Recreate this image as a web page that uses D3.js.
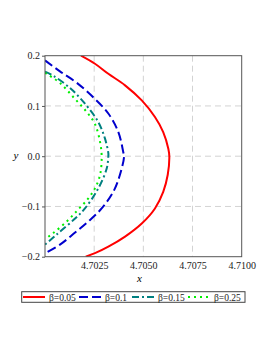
<!DOCTYPE html>
<html>
<head>
<meta charset="utf-8">
<script src="https://cdn.jsdelivr.net/npm/d3@7"></script>
<style>
  body { margin: 0; background: #fff; }
  text { font-family: "Liberation Serif", "DejaVu Serif", serif; }
</style>
</head>
<body>
<svg id="chart" width="274" height="355"></svg>
<script>
// values: [x, y]
const red = [[4.70183, 0.2], [4.70254, 0.184], [4.70322, 0.164], [4.70407, 0.141], [4.70492, 0.111],
  [4.70559, 0.078], [4.70601, 0.048], [4.70627, 0.015], [4.70632, 0], [4.70624, -0.037],
  [4.70601, -0.071], [4.70559, -0.104], [4.70492, -0.134], [4.70407, -0.160], [4.70322, -0.180],
  [4.70254, -0.193], [4.70207, -0.2]];
const blue = [[4.70000, 0.1906], [4.70076, 0.1688], [4.70165, 0.145], [4.70254, 0.114], [4.70322, 0.085],
  [4.70373, 0.048], [4.70398, 0.008], [4.70402, 0], [4.70381, -0.037], [4.70347, -0.071],
  [4.70288, -0.104], [4.70220, -0.130], [4.70153, -0.152], [4.70076, -0.176], [4.70000, -0.193]];
const teal = [[4.70000, 0.168], [4.70042, 0.160], [4.70127, 0.1357], [4.70200, 0.106], [4.70271, 0.068],
  [4.70305, 0.035], [4.70322, 0.006], [4.70322, 0], [4.70314, -0.024], [4.70271, -0.064],
  [4.70203, -0.104], [4.70153, -0.124], [4.70059, -0.156], [4.70000, -0.176]];
const green = [[4.70000, 0.166], [4.70076, 0.1457], [4.70150, 0.115], [4.70212, 0.088], [4.70254, 0.064],
  [4.70280, 0.028], [4.70288, 0], [4.70280, -0.037], [4.70254, -0.064], [4.70220, -0.084],
  [4.70169, -0.106], [4.70110, -0.130], [4.70042, -0.153], [4.70000, -0.165]];

const labels = ["β=0.05", "β=0.1", "β=0.15", "β=0.25"];
const xTicks = [4.7025, 4.7050, 4.7075, 4.7100];
const yTicks = [0.2, 0.1, 0.0, -0.1, -0.2];

const series = [
  { data: red, color: "#ff0000", dash: null },
  { data: blue, color: "#0000cd", dash: "9,4" },
  { data: teal, color: "#008080", dash: "7,3,2,3" },
  { data: green, color: "#00ee00", dash: "2,4" }
];

const svg = d3.select("#chart");
const mLeft = 45, mRight = 241.7, mTop = 55.7, mBottom = 256.7;

const x = d3.scaleLinear().domain([4.7, 4.71]).range([mLeft, mRight]);
const y = d3.scaleLinear().domain([-0.2, 0.2]).range([mBottom, mTop]);

// grid
const grid = svg.append("g").attr("stroke", "#d3d3d3").attr("stroke-width", 1).attr("stroke-dasharray", "6,4");
grid.selectAll(".gx").data(xTicks.slice(0, 3)).enter().append("line")
  .attr("x1", d => x(d)).attr("x2", d => x(d)).attr("y1", mTop).attr("y2", mBottom);
grid.selectAll(".gy").data([0.1, 0, -0.1]).enter().append("line")
  .attr("x1", mLeft).attr("x2", mRight).attr("y1", d => y(d)).attr("y2", d => y(d));

svg.append("clipPath").attr("id", "clip").append("rect")
  .attr("x", mLeft).attr("y", mTop).attr("width", mRight - mLeft).attr("height", mBottom - mTop);

const line = d3.line().x(d => x(d[0])).y(d => y(d[1])).curve(d3.curveCatmullRom);

svg.append("g").attr("clip-path", "url(#clip)")
  .selectAll("path").data(series).enter().append("path")
  .attr("d", d => line(d.data))
  .attr("fill", "none")
  .attr("stroke", d => d.color)
  .attr("stroke-width", 2)
  .attr("stroke-dasharray", d => d.dash);

// frame
svg.append("rect").attr("x", mLeft).attr("y", mTop).attr("width", mRight - mLeft).attr("height", mBottom - mTop)
  .attr("fill", "none").attr("stroke", "#555").attr("stroke-width", 1);

// axes
const fmtY = d => (d < 0 ? "\u2212" : "") + Math.abs(d).toFixed(1);
svg.append("g").attr("transform", `translate(0,${mBottom})`)
  .call(d3.axisBottom(x).tickValues(xTicks).tickFormat(d3.format(".4f")).tickSize(0).tickPadding(5))
  .call(g => g.select(".domain").remove())
  .call(g => g.selectAll("text").attr("font-size", 10).attr("fill", "#222"));

svg.append("g").attr("transform", `translate(${mLeft},0)`)
  .call(d3.axisLeft(y).tickValues(yTicks).tickFormat(fmtY).tickSize(3).tickPadding(2))
  .call(g => g.select(".domain").remove())
  .call(g => g.selectAll("line").attr("stroke", "#555"))
  .call(g => g.selectAll("text").attr("font-size", 10).attr("fill", "#222"));

svg.append("text").attr("x", (mLeft + mRight) / 2 - 4).attr("y", 282).attr("text-anchor", "middle")
  .attr("font-size", 11).attr("font-style", "italic").text("x");
svg.append("text").attr("x", 16).attr("y", y(0) + 3).attr("text-anchor", "middle")
  .attr("font-size", 11).attr("font-style", "italic").text("y");

// legend
const lg = svg.append("g");
lg.append("rect").attr("x", 21.7).attr("y", 291.7).attr("width", 223.3).attr("height", 10.6)
  .attr("fill", "none").attr("stroke", "#444").attr("stroke-width", 1);
const lx = [23, 79, 132, 188];
const item = lg.selectAll(".item").data(series).enter().append("g")
  .attr("transform", (d, i) => `translate(${lx[i]},297)`);
item.append("line").attr("x1", 0).attr("x2", 22).attr("y1", 0).attr("y2", 0)
  .attr("stroke", d => d.color).attr("stroke-width", 2).attr("stroke-dasharray", d => d.dash);
item.append("text").attr("x", 26).attr("y", 3.5).attr("font-size", 9.5).attr("fill", "#222")
  .text((d, i) => labels[i]);
</script>
</body>
</html>
